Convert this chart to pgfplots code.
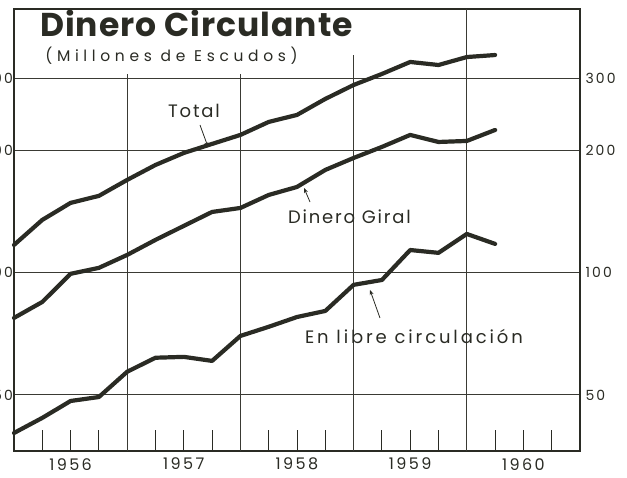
\documentclass[border=0pt]{standalone}
\usepackage{fontspec}
\setmainfont{Poppins}
\usepackage{pgfplots}
\usepackage{pgfplotstable}
\pgfplotsset{compat=1.18}
\usetikzlibrary{arrows.meta}
\newfontfamily\titlef[LetterSpace=3]{Poppins}
\newfontfamily\handA[LetterSpace=10]{Poppins}
\newfontfamily\handB[LetterSpace=16]{Poppins}
\newfontfamily\handC[LetterSpace=15]{Poppins}
\newfontfamily\handD[LetterSpace=30]{Poppins}
\definecolor{ink}{HTML}{2A2B24}
\definecolor{gridc}{HTML}{3A3A34}

\pgfplotstableread{
x       total giral libre
1956.00 116.8  77.3  40.3
1956.25 134.6  84.6  43.9
1956.50 148.2  99.2  48.3
1956.75 154.2 102.6  49.4
1957.00 168.8 110.4  57.0
1957.25 183.7 120.2  61.7
1957.50 196.6 130.1  62.0
1957.75 206.9 140.8  60.6
1958.00 217.7 144.0  69.8
1958.25 234.3 155.0  73.5
1958.50 243.8 162.2  77.7
1958.75 266.9 178.6  80.4
1959.00 288.8 191.1  93.2
1959.25 307.4 203.4  95.8
1959.50 329.0 217.7 113.5
1959.75 323.4 209.2 111.7
1960.00 338.3 210.4 124.3
1960.25 342.2 223.9 117.5
}\data

\tikzset{yr/.style={anchor=north, font=\handC\fontsize{16}{16}\selectfont, text=ink, inner sep=0pt, yshift=-7pt},
         lft/.style={anchor=east, font=\handC\fontsize{14}{14}\selectfont, text=ink, inner sep=1pt}}

\begin{document}
\begin{tikzpicture}
\begin{scope}
\clip (-14pt,-26pt) rectangle (613pt,451pt);
\begin{axis}[
  at={(0,0)}, anchor=south west,
  scale only axis, width=566pt, height=442pt,
  xmin=1956, xmax=1961,
  ymode=log, ymin=36.4, ymax=444,
  axis line style={ink, line width=1.1pt},
  xtick={1956.25,1956.5,1956.75,1957.25,1957.5,1957.75,1958.25,1958.5,1958.75,1959.25,1959.5,1959.75,1960.25,1960.5,1960.75},
  xticklabels={},
  xtick pos=bottom,
  xtick style={ink, line width=0.8pt},
  tick align=inside,
  major tick length=21pt,
  ytick={50,100,200,300},
  yticklabels={50,100,200,300},
  ytick pos=right,
  yminorticks=false,
  ytick style={draw=none},
  ymajorgrids,
  grid style={gridc, line width=0.8pt},
  yticklabel style={font=\handC\fontsize{14}{14}\selectfont, text=ink, xshift=2pt},
  clip=false,
]
% vertical year grid lines
\draw[gridc, line width=0.8pt] (axis cs:1957,36.4) -- (axis cs:1957,308);
\draw[gridc, line width=0.8pt] (axis cs:1958,36.4) -- (axis cs:1958,308);
\draw[gridc, line width=0.8pt] (axis cs:1959,36.4) -- (axis cs:1959,342);
\draw[gridc, line width=0.8pt] (axis cs:1960,36.4) -- (axis cs:1960,444);

\addplot[ink, line width=4.2pt, line join=round, line cap=round] table[x=x, y=total] {\data};
\addplot[ink, line width=4.2pt, line join=round, line cap=round] table[x=x, y=giral] {\data};
\addplot[ink, line width=4.2pt, line join=round, line cap=round] table[x=x, y=libre] {\data};

% year labels
\node[yr] at (axis cs:1956.5,36.4) {1956};
\node[yr] at (axis cs:1957.5,36.4) {1957};
\node[yr] at (axis cs:1958.5,36.4) {1958};
\node[yr] at (axis cs:1959.5,36.4) {1959};
\node[yr] at (axis cs:1960.5,36.4) {1960};
% left labels (cut by the page edge, as in the reference)
\node[lft] at (axis cs:1956,50) {50};
\node[lft] at (axis cs:1956,100) {100};
\node[lft] at (axis cs:1956,200) {200};
\node[lft] at (axis cs:1956,300) {300};

% title
\node[anchor=base west, font=\titlef\bfseries\fontsize{33}{33}\selectfont, text=ink, inner sep=0pt] at (axis description cs:0.046,0.937) {Dinero Circulante};
\node[anchor=base west, font=\handD\fontsize{15.5}{15.5}\selectfont, text=ink, inner sep=0pt] at (axis description cs:0.055,0.881) {(Millones de Escudos)};

% series labels
\node[anchor=base west, font=\handA\fontsize{18}{18}\selectfont, text=ink, inner sep=0pt] at (axis description cs:0.272,0.7534) {Total};
\node[anchor=base west, font=\handA\fontsize{18}{18}\selectfont, text=ink, inner sep=0pt] at (axis description cs:0.484,0.5158) {Dinero Giral};
\node[anchor=base west, font=\handB\fontsize{18}{18}\selectfont, text=ink, inner sep=0pt] at (axis description cs:0.514,0.2443) {En libre circulación};

% pointers
\draw[ink, line width=0.8pt, -{Stealth[length=5pt,width=4pt]}] (axis description cs:0.3286,0.7376) -- (axis description cs:0.3428,0.6878);
\draw[ink, line width=0.8pt, -{Stealth[length=5pt,width=4pt]}] (axis description cs:0.523,0.5633) -- (axis description cs:0.5124,0.595);
\draw[ink, line width=0.8pt, -{Stealth[length=5pt,width=4pt]}] (axis description cs:0.6466,0.3009) -- (axis description cs:0.629,0.3643);
\end{axis}
\end{scope}
\pgfresetboundingbox
\useasboundingbox (-14pt,-26pt) rectangle (613pt,451pt);
\end{tikzpicture}
\end{document}
